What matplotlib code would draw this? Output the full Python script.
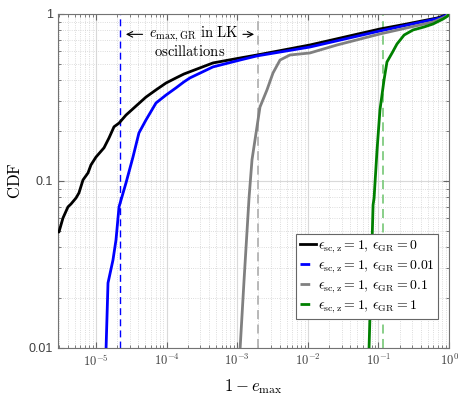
import matplotlib
matplotlib.use('Agg')
import matplotlib.pyplot as plt
from matplotlib.lines import Line2D

plt.rcParams['mathtext.fontset'] = 'cm'
plt.rcParams['font.family'] = ['Liberation Sans', 'DejaVu Sans']

# curves: 1 - e_max versus CDF
x_gr0 = [2.9e-6, 2.99e-6, 3.41e-6, 4.01e-6, 4.43e-6, 5.21e-6, 5.74e-6, 6.55e-6, 7.71e-6,
         8.49e-6, 1.0e-5, 1.30e-5, 1.53e-5, 1.80e-5, 2.12e-5, 2.66e-5, 3.69e-5, 5.11e-5,
         7.08e-5, 9.82e-5, 1.36e-4, 1.76e-4, 4.54e-4, 1.1e-3, 1.91e-3, 1.07e-2, 0.105,
         0.231, 0.676, 1.0]
cdf_gr0 = [0.0495, 0.0495, 0.060, 0.0699, 0.0728, 0.079, 0.0848, 0.1014, 0.1117,
           0.1247, 0.139, 0.158, 0.181, 0.211, 0.222, 0.248, 0.281, 0.318,
           0.351, 0.386, 0.414, 0.437, 0.509, 0.545, 0.568, 0.652, 0.813,
           0.865, 0.946, 1.0]

x_gr001 = [1.39e-5, 1.48e-5, 1.74e-5, 1.92e-5, 2.12e-5, 2.66e-5, 3.34e-5, 4.06e-5, 5.11e-5,
           7.08e-5, 9.82e-5, 1.36e-4, 1.76e-4, 2.14e-4, 4.54e-4, 1.1e-3, 1.91e-3, 1.07e-2,
           0.105, 0.231, 0.746, 1.0]
cdf_gr001 = [0.01, 0.0245, 0.0336, 0.0443, 0.0699, 0.0973, 0.139, 0.194, 0.232,
             0.293, 0.327, 0.361, 0.392, 0.414, 0.482, 0.530, 0.561, 0.634,
             0.791, 0.850, 0.946, 1.0]

x_gr01 = [1.10e-3, 1.25e-3, 1.47e-3, 1.62e-3, 2.10e-3, 2.64e-3, 3.21e-3, 4.04e-3, 5.59e-3,
          1.07e-2, 2.59e-2, 0.105, 0.593, 0.877, 1.0]
cdf_gr01 = [0.01, 0.0255, 0.079, 0.134, 0.277, 0.351, 0.443, 0.530, 0.568,
            0.584, 0.652, 0.759, 0.895, 0.960, 1.0]

x_gr1 = [0.0736, 0.0785, 0.0839, 0.0867, 0.0955, 0.105, 0.120, 0.132, 0.156,
         0.183, 0.231, 0.309, 0.443, 0.593, 0.822, 0.95, 1.0]
cdf_gr1 = [0.01, 0.0255, 0.0718, 0.079, 0.153, 0.266, 0.403, 0.516, 0.584,
           0.661, 0.748, 0.802, 0.836, 0.871, 0.933, 0.97, 1.0]

# 1 - e_max,GR for each eps_GR (dashed markers)
e_gr_blue = 2.2e-5
e_gr_gray = 2.0e-3
e_gr_green = 0.115

labels = [r'$\epsilon_{\rm sc,z}=1,\,\epsilon_{\rm GR}=0$',
          r'$\epsilon_{\rm sc,z}=1,\,\epsilon_{\rm GR}=0.01$',
          r'$\epsilon_{\rm sc,z}=1,\,\epsilon_{\rm GR}=0.1$',
          r'$\epsilon_{\rm sc,z}=1,\,\epsilon_{\rm GR}=1$']
colors = ['k', (0, 0, 1), (0.5, 0.5, 0.5), (0, 0.5, 0)]

xticks = [1e-5, 1e-4, 1e-3, 1e-2, 1e-1, 1]
xticklabels = [r'$\mathsf{10^{-5}}$', r'$\mathsf{10^{-4}}$', r'$\mathsf{10^{-3}}$',
               r'$\mathsf{10^{-2}}$', r'$\mathsf{10^{-1}}$', r'$\mathsf{10^{0}}$']
yticks = [0.01, 0.1, 1]
yticklabels = ['0.01', '0.1', '1']

fig = plt.figure(figsize=(4.74, 3.99), dpi=100)
ax = fig.add_axes([0.1224, 0.128, 0.825, 0.837])

curves = [(x_gr0, cdf_gr0), (x_gr001, cdf_gr001), (x_gr01, cdf_gr01), (x_gr1, cdf_gr1)]
for (xs, ys), c in zip(curves, colors):
    ax.plot(xs, ys, color=c, lw=2.0, zorder=3)

ax.axvline(e_gr_blue, color=(0, 0, 1), lw=1.0, ls=(0, (5, 3)), zorder=2)
ax.axvline(e_gr_gray, color=(0.7, 0.7, 0.7), lw=1.3, ls=(0, (5, 3)), zorder=2)
ax.axvline(e_gr_green, color=(0.5, 0.8, 0.5), lw=1.3, ls=(0, (5, 3)), zorder=2)

ax.set_xscale('log')
ax.set_yscale('log')
ax.set_xlim(2.9e-6, 1)
ax.set_ylim(0.01, 1)
ax.set_xticks(xticks)
ax.set_xticklabels(xticklabels, fontsize=9)
ax.set_yticks(yticks)
ax.set_yticklabels(yticklabels, fontsize=9)

ax.grid(True, which='major', color=(0.85, 0.85, 0.85), lw=0.8)
ax.grid(True, which='minor', color=(0.82, 0.82, 0.82), lw=0.6, ls=':')
ax.set_axisbelow(True)
ax.tick_params(which='both', direction='in', top=True, right=True,
               color=(0.4, 0.4, 0.4), labelcolor=(0.25, 0.25, 0.25))
ax.tick_params(which='major', length=4)
ax.tick_params(which='minor', length=2)
for s in ax.spines.values():
    s.set_color((0.45, 0.45, 0.45))
    s.set_linewidth(0.8)

ax.set_xlabel(r'$1-e_{\rm max}$', fontsize=12, labelpad=6)
ax.set_ylabel(r'$\mathrm{CDF}$', fontsize=12)
ax.yaxis.set_label_coords(-0.09, 0.5)

# annotation between the blue and gray dashed lines
ax.text(2.4e-4, 0.749, r'$e_{\rm max,GR}\ \mathrm{in\ LK}$', fontsize=10.5,
        ha='center', va='center')
ax.text(2.1e-4, 0.592, r'$\mathrm{oscillations}$', fontsize=10.5,
        ha='center', va='center')
ax.annotate('', xy=(e_gr_blue * 1.1, 0.755), xytext=(5.0e-5, 0.755),
            arrowprops=dict(arrowstyle='->', color='k', lw=0.8))
ax.annotate('', xy=(e_gr_gray * 0.95, 0.755), xytext=(1.1e-3, 0.755),
            arrowprops=dict(arrowstyle='->', color='k', lw=0.8))

handles = [Line2D([], [], color=colors[0], lw=2.0)]
for c in colors[1:]:
    handles.append(Line2D([], [], color=c, lw=2.0, ls=(0, (3.5, 3.5))))
leg = ax.legend(handles, labels, loc='lower right', bbox_to_anchor=(0.972, 0.087),
                fontsize=10, fancybox=False, framealpha=1, edgecolor=(0.4, 0.4, 0.4),
                handlelength=1.2, handletextpad=0.1, borderpad=0.25, labelspacing=0.22,
                borderaxespad=0)
leg.get_frame().set_linewidth(0.8)

fig.savefig('out.png', dpi=100)
